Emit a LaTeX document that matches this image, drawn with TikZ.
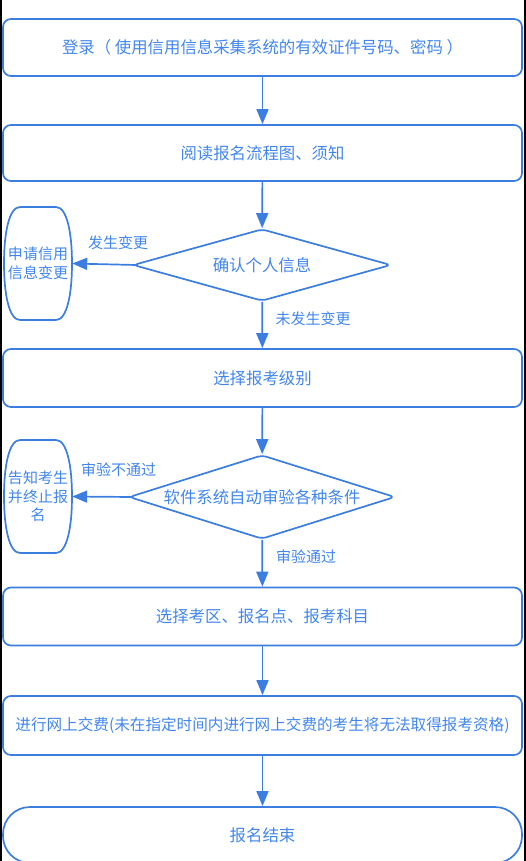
\documentclass[tikz,border=0pt]{standalone}
\usepackage{fontspec}
\setmainfont{Noto Sans CJK SC}
\usetikzlibrary{shapes.geometric,arrows.meta}
\definecolor{flowblue}{HTML}{3C7DE0}
\definecolor{textblue}{HTML}{4286EC}
\tikzset{
  outline/.style={draw=flowblue, line width=1.7pt},
  procbox/.style={outline, rounded corners=8pt, minimum width=519pt, inner sep=0pt,
    text=textblue, font=\fontsize{16.4}{19}\selectfont},
  check/.style={outline, diamond, rounded corners=5pt, inner sep=0pt,
    text=textblue, font=\fontsize{16.4}{19}\selectfont},
  sidebox/.style={minimum width=68pt, minimum height=113pt, inner sep=0pt, align=center,
    text=textblue, font=\fontsize{15}{18.5}\selectfont},
  branch/.style={text=textblue, font=\fontsize{15}{18}\selectfont},
  arr/.style={draw=flowblue, line width=1.7pt, -{Triangle[length=15pt,width=12pt]}}
}
\begin{document}
\begin{tikzpicture}[x=1pt,y=-1pt]
  \useasboundingbox (0,0) rectangle (526,861);
  \fill[black] (0,0) rectangle (2,861);
  \fill[black] (524,0) rectangle (526,861);

  \node[procbox, minimum height=57pt] (login) at (262.5,47.5) {登录（ 使用信用信息采集系统的有效证件号码、密码 ）};
  \node[procbox, minimum height=56pt] (read) at (262.5,153) {阅读报名流程图、须知};
  \node[check, aspect=3.58, minimum width=258pt, minimum height=72pt] (info) at (262,265) {确认个人信息};
  \node[procbox, minimum height=58pt] (level) at (262.5,378) {选择报考级别};
  \node[check, aspect=3.17, minimum width=266pt, minimum height=84pt] (audit) at (262,497) {软件系统自动审验各种条件};
  \node[procbox, minimum height=58pt] (site) at (262.5,616.5) {选择考区、报名点、报考科目};
  \node[procbox, minimum height=59pt, font=\fontsize{15.6}{19}\selectfont] (pay) at (262.5,725.5) {进行网上交费(未在指定时间内进行网上交费的考生将无法取得报考资格)};
  \node[procbox, rounded corners=27pt, minimum height=56pt] (done) at (262.5,835) {报名结束};

  \node[sidebox] (change) at (38,263.5) {申请信用\\信息变更};
  \node[sidebox] (stop) at (38,496.5) {告知考生\\并终止报\\名};
  \foreach \top/\bot in {207/320,440/553}
    \draw[outline] (20,\top) -- (56,\top)
      .. controls (67,\top) and (72,{\top+26}) .. (72,{(\top+\bot)/2})
      .. controls (72,{\bot-26}) and (67,\bot) .. (56,\bot) -- (20,\bot)
      .. controls (9,\bot) and (4,{\bot-26}) .. (4,{(\top+\bot)/2})
      .. controls (4,{\top+26}) and (9,\top) .. cycle;

  \draw[arr] (login) -- (read);
  \draw[arr] (read) -- (info);
  \draw[arr] ([xshift=4pt]info.west) -- (change.east);
  \draw[arr] (info) -- (level);
  \draw[arr] (level) -- (audit);
  \draw[arr] ([xshift=4pt]audit.west) -- (stop.east);
  \draw[arr] (audit) -- (site);
  \draw[arr] (site) -- (pay);
  \draw[arr] (pay) -- (done);

  \node[branch] (changed) at (118,243) {发生变更};
  \node[branch] (same) at (313,319) {未发生变更};
  \node[branch] (fail) at (118.5,470) {审验不通过};
  \node[branch] (pass) at (306,557) {审验通过};
\end{tikzpicture}
\end{document}
